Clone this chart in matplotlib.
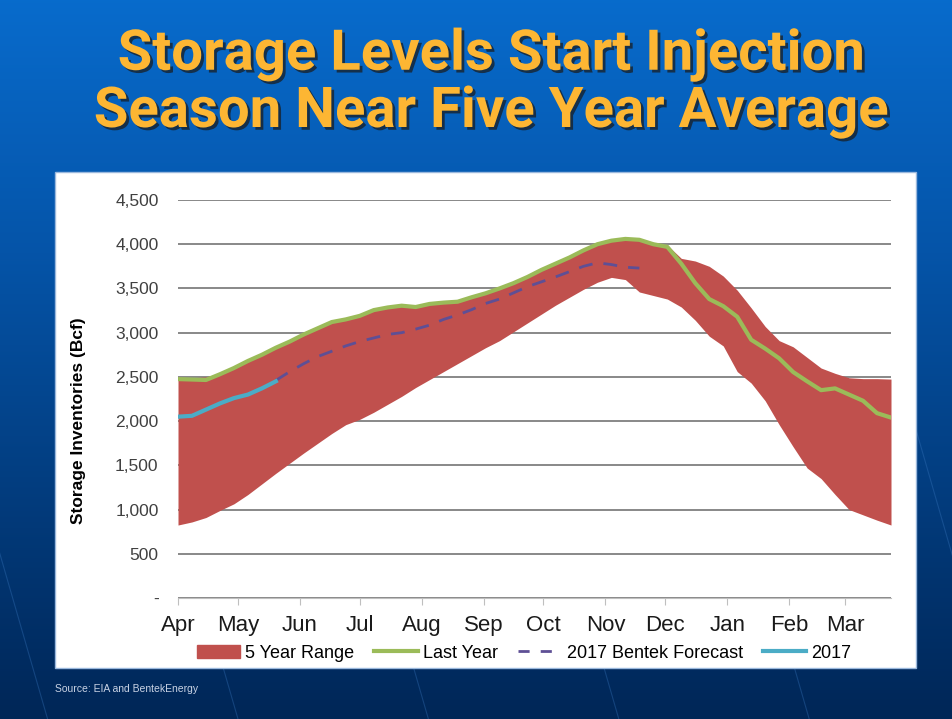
import numpy as np
import matplotlib.pyplot as plt
from matplotlib.patches import Rectangle, Patch
from matplotlib.lines import Line2D
import matplotlib.patheffects as pe

# weekly storage data, week 0 = start of April
months = ["Apr", "May", "Jun", "Jul", "Aug", "Sep", "Oct", "Nov", "Dec", "Jan", "Feb", "Mar"]
month_days = [0, 30, 61, 91, 122, 153, 183, 214, 244, 275, 306, 334]

range_low = [825, 860, 910, 990, 1065, 1170, 1290, 1410, 1525, 1640,
             1750, 1860, 1960, 2020, 2100, 2190, 2280, 2380, 2470, 2560,
             2650, 2740, 2830, 2910, 3010, 3110, 3210, 3310, 3400, 3490,
             3570, 3625, 3600, 3460, 3420, 3380, 3290, 3140, 2960, 2850,
             2560, 2430, 2230, 1960, 1710, 1470, 1350, 1170, 1000, 940,
             880, 825]
range_high = [2490, 2490, 2500, 2540, 2610, 2690, 2770, 2850, 2920, 2990,
              3060, 3120, 3160, 3200, 3260, 3290, 3310, 3300, 3330, 3350,
              3360, 3410, 3450, 3510, 3570, 3640, 3710, 3790, 3860, 3940,
              4010, 4050, 4070, 4060, 4020, 3990, 3840, 3810, 3750, 3640,
              3480, 3280, 3070, 2910, 2840, 2720, 2600, 2540, 2490, 2480,
              2480, 2475]
last_year = [2475, 2470, 2465, 2530, 2600, 2680, 2750, 2830, 2900, 2980,
             3050, 3120, 3150, 3190, 3255, 3285, 3305, 3290, 3325, 3340,
             3350, 3400, 3445, 3500, 3560, 3630, 3710, 3780, 3850, 3930,
             4000, 4040, 4060, 4050, 4000, 3970, 3780, 3560, 3380, 3300,
             3180, 2920, 2820, 2710, 2555, 2450, 2350, 2370, 2300, 2230,
             2090, 2040]
# forecast covers weeks 7..33
forecast_start = 7
forecast = [2460, 2560, 2650, 2730, 2790, 2850, 2900, 2940, 2980, 3000,
            3040, 3085, 3150, 3200, 3260, 3330, 3380, 3450, 3520, 3575,
            3630, 3690, 3750, 3790, 3770, 3740, 3730]
# 2017 actuals, weeks 0..7
actual_2017 = [2050, 2060, 2130, 2200, 2260, 2300, 2370, 2450]

days = np.arange(len(range_low)) * 7
fc_days = (np.arange(len(forecast)) + forecast_start) * 7
a17_days = np.arange(len(actual_2017)) * 7

W, H = 952, 719
fig = plt.figure(figsize=(W / 100, H / 100), dpi=100)

# background gradient
bg = fig.add_axes([0, 0, 1, 1], zorder=-10)
grad = np.linspace(0, 1, 256)[:, None]
top = np.array([0.03, 0.42, 0.80])
mid = np.array([0.02, 0.33, 0.66])
bot = np.array([0.0, 0.15, 0.34])
cols = np.where(grad[..., None] < 0.35,
                top + (mid - top) * (grad[..., None] / 0.35),
                mid + (bot - mid) * ((grad[..., None] - 0.35) / 0.65))
bg.imshow(cols, aspect="auto", extent=[0, 1, 0, 1], origin="upper")
for x0 in [0.05, 0.25, 0.45, 0.65, 0.85, 1.05]:
    bg.plot([x0, x0 - 0.12], [0.0, 0.55], color="#3a78c0", lw=0.8, alpha=0.35)
bg.set_xlim(0, 1)
bg.set_ylim(0, 1)
bg.axis("off")

# white panel
fig.patches.append(Rectangle((55 / W, 1 - 668 / H), (916 - 55) / W, (668 - 172) / H,
                             transform=fig.transFigure, facecolor="white",
                             edgecolor="#9ab8dd", lw=1, zorder=-5))

# title
title_lines = ["Storage Levels Start Injection", "Season Near Five Year Average"]
title_y = [55, 112]
for txt, yy in zip(title_lines, title_y):
    fig.text(491 / W, 1 - yy / H, txt, ha="center", va="center",
             fontsize=30, fontweight="bold", color="#FDB633",
             family=["Roboto", "DejaVu Sans"],
             path_effects=[pe.withSimplePatchShadow(offset=(2, -2), shadow_rgbFace="#1a1a1a", alpha=0.7)])
fig.canvas.draw()
r = fig.canvas.get_renderer()
w2 = fig.texts[1].get_window_extent(r).width
scale = 793 / w2
for t in fig.texts:
    t.set_fontsize(30 * scale)

ax = fig.add_axes([178 / W, 1 - 598 / H, (891 - 178) / W, (598 - 200) / H])
ax.fill_between(days, range_low, range_high, color="#C0504D", lw=0, zorder=2)
ax.plot(days, last_year, color="#9BBB59", lw=3, zorder=3)
ax.plot(fc_days, forecast, color="#5E4F95", lw=2, dashes=(5, 4), zorder=4)
ax.plot(a17_days, actual_2017, color="#4BACC6", lw=3, zorder=4)

ax.set_xlim(0, 357)
ax.set_ylim(0, 4500)
ax.set_axisbelow(True)
ax.yaxis.grid(True, color="#7f7f7f", lw=1.3)
ax.set_yticks(np.arange(0, 4501, 500))
ax.set_yticklabels(["-" if v == 0 else f"{v:,}" for v in range(0, 4501, 500)])
ax.set_xticks(month_days)
ax.set_xticklabels(months)
for s in ["top", "right", "left"]:
    ax.spines[s].set_visible(False)
ax.spines["bottom"].set_color("#bfbfbf")
ax.tick_params(axis="y", length=0, pad=14, labelsize=12.5, labelcolor="#404040")
ax.tick_params(axis="x", length=5, color="#bfbfbf", pad=7, labelsize=16, labelcolor="#1a1a1a")
for lab in ax.get_xticklabels() + ax.get_yticklabels():
    lab.set_family("Liberation Sans")

fig.text(78 / W, 1 - 421 / H, "Storage Inventories (Bcf)", rotation=90,
         ha="center", va="center", fontsize=12.5, fontweight="bold",
         family="Liberation Sans", color="black")

handles = [Patch(color="#C0504D"),
           Line2D([], [], color="#9BBB59", lw=3),
           Line2D([], [], color="#5E4F95", lw=2, dashes=(4, 4)),
           Line2D([], [], color="#4BACC6", lw=3)]
labels = ["5 Year Range", "Last Year", "2017 Bentek Forecast", "2017"]
fig.legend(handles, labels, loc="center", bbox_to_anchor=(524 / W, 1 - 653 / H),
           ncol=4, frameon=False, handlelength=2.4, handletextpad=0.3,
           columnspacing=1.1, prop={"family": "Liberation Sans", "size": 13})

fig.text(55 / W, 1 - 689 / H, "Source: EIA and BentekEnergy", ha="left", va="center",
         fontsize=7.5, color="#c8d2e4", family="Liberation Sans")

fig.savefig("out.png", dpi=100)
